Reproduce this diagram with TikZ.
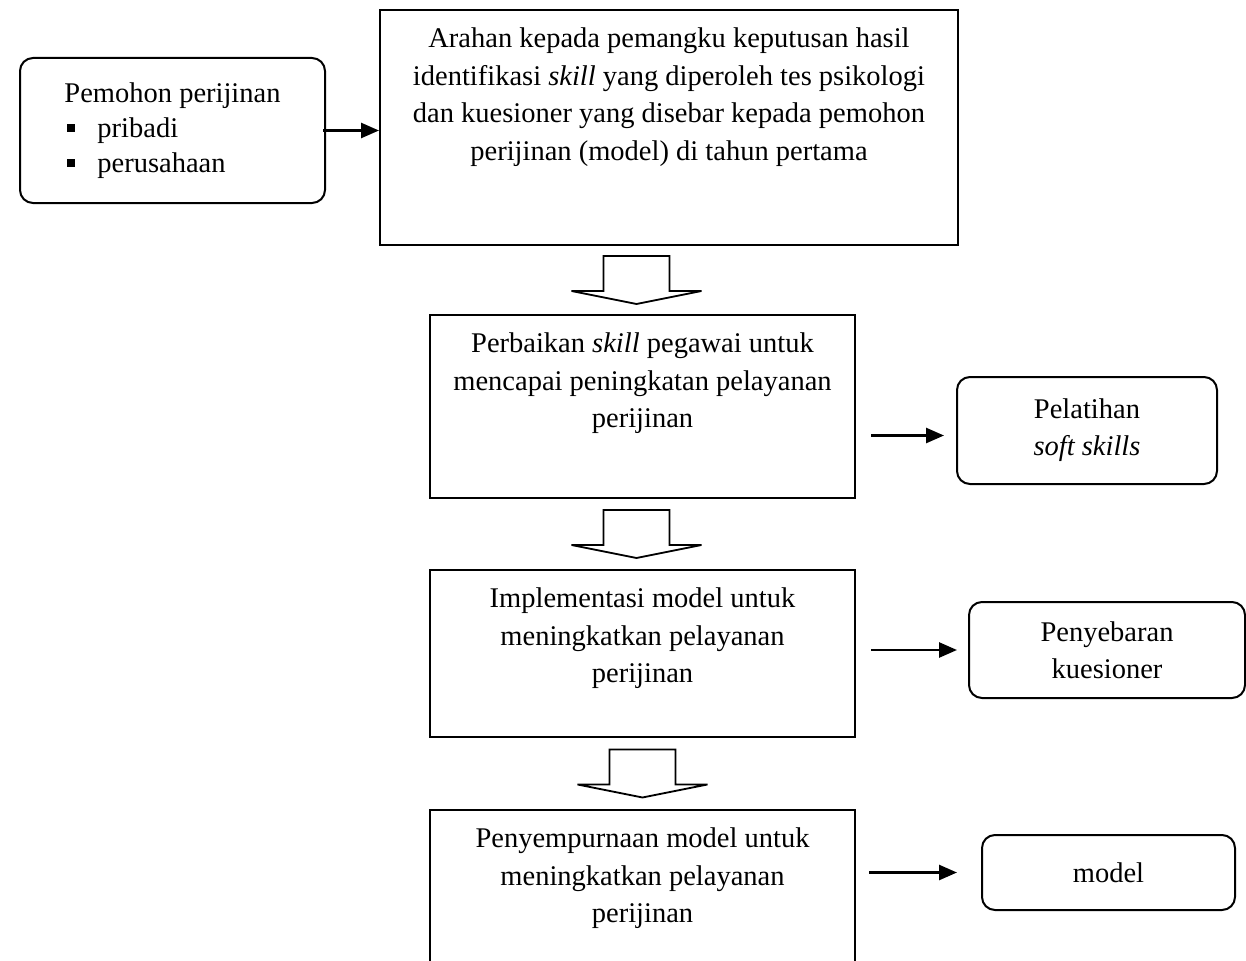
\documentclass[tikz,border=0pt]{standalone}
\usepackage{fontspec}
\setmainfont{Liberation Serif}
\usetikzlibrary{positioning,calc,arrows.meta}

\newcommand{\kotakhitam}{\raisebox{5pt}{\rule{8pt}{8pt}}}

\tikzset{
    kotak/.style={draw, line width=2pt, inner sep=0pt},
    kotakbulat/.style={kotak, rounded corners=13pt, align=center,
        font=\fontsize{28.5}{37}\selectfont},
    isi/.style={align=center, inner sep=0pt, font=\fontsize{28.5}{37.5}\selectfont},
    panah/.style={-{Triangle[length=18pt,width=15pt]}, line width=2.6pt},
    panahblok/.pic={
        \draw[line width=1.8pt, line join=miter]
            (-33,-24) -- (33,-24) -- (33,11) -- (65,11) -- (0,24)
            -- (-65,11) -- (-33,11) -- cycle;
    }
}

\begin{document}
\begin{tikzpicture}[x=1pt, y=-1pt]
            \useasboundingbox (0,0) rectangle (1246,960);
            \clip (0,0) rectangle (1246,960);

            % kotak utama
            \node[kotak, minimum width=578pt, minimum height=235pt] (arahan) at (669,127.5) {};
            \node[kotak, minimum width=425pt, minimum height=183pt] (perbaikan) at (642.5,406.5) {};
            \node[kotak, minimum width=425pt, minimum height=167pt] (implementasi) at (642.5,653.5) {};
            \node[kotak, minimum width=425pt, minimum height=183pt] (penyempurnaan) at (642.5,901.5) {};

            \node[isi, below=19pt of arahan.north] (arahanteks) {Arahan kepada pemangku keputusan hasil\\
                identifikasi \textit{skill} yang diperoleh tes psikologi\\
                dan kuesioner yang disebar kepada pemohon\\
                perijinan (model) di tahun pertama};
            \node[isi, below=19pt of perbaikan.north] (perbaikanteks) {Perbaikan \textit{skill} pegawai untuk\\
                mencapai peningkatan pelayanan\\ perijinan};
            \node[isi, below=19pt of implementasi.north] (implementasiteks) {Implementasi model untuk\\
                meningkatkan pelayanan\\ perijinan};
            \node[isi, below=19pt of penyempurnaan.north] (penyempurnaanteks) {Penyempurnaan model untuk\\
                meningkatkan pelayanan\\ perijinan};

            % kotak samping
            \node[kotakbulat, align=left, font=\fontsize{28.5}{35}\selectfont,
                minimum width=305pt, minimum height=145pt] (pemohon) at (172.5,130.5)
                {Pemohon perijinan\\
                \hspace*{3pt}\kotakhitam\hspace{22pt}pribadi\\
                \hspace*{3pt}\kotakhitam\hspace{22pt}perusahaan};
            \node[kotakbulat, minimum width=260pt, minimum height=107pt] (pelatihan) at (1087,430.5)
                {Pelatihan\\ \textit{soft skills}};
            \node[kotakbulat, minimum width=276pt, minimum height=96pt] (penyebaran) at (1107,650)
                {Penyebaran\\ kuesioner};
            \node[kotakbulat, minimum width=253pt, minimum height=75pt] (model) at (1108.5,872.5)
                {model};

            % panah
            \draw[panah] ([xshift=-3pt]pemohon.east) -- (pemohon.east -| arahan.west);
            \draw[panah] ([xshift=15pt,yshift=-5pt]perbaikan.east |- pelatihan.west) -- ([xshift=-12pt,yshift=-5pt]pelatihan.west);
            \draw[panah] ([xshift=15pt]implementasi.east |- penyebaran.west) -- ([xshift=-11pt]penyebaran.west);
            \draw[panah] ([xshift=13pt]penyempurnaan.east |- model.west) -- ([xshift=-24pt]model.west);

            \pic at ([xshift=-6pt]$(arahan.south -| perbaikan.north)!.5!(perbaikan.north)$) {panahblok};
            \pic at ([xshift=-6pt]$(perbaikan.south)!.5!(implementasi.north)$) {panahblok};
            \pic at ($(implementasi.south)!.5!(penyempurnaan.north)$) {panahblok};
        \end{tikzpicture}
\end{document}
